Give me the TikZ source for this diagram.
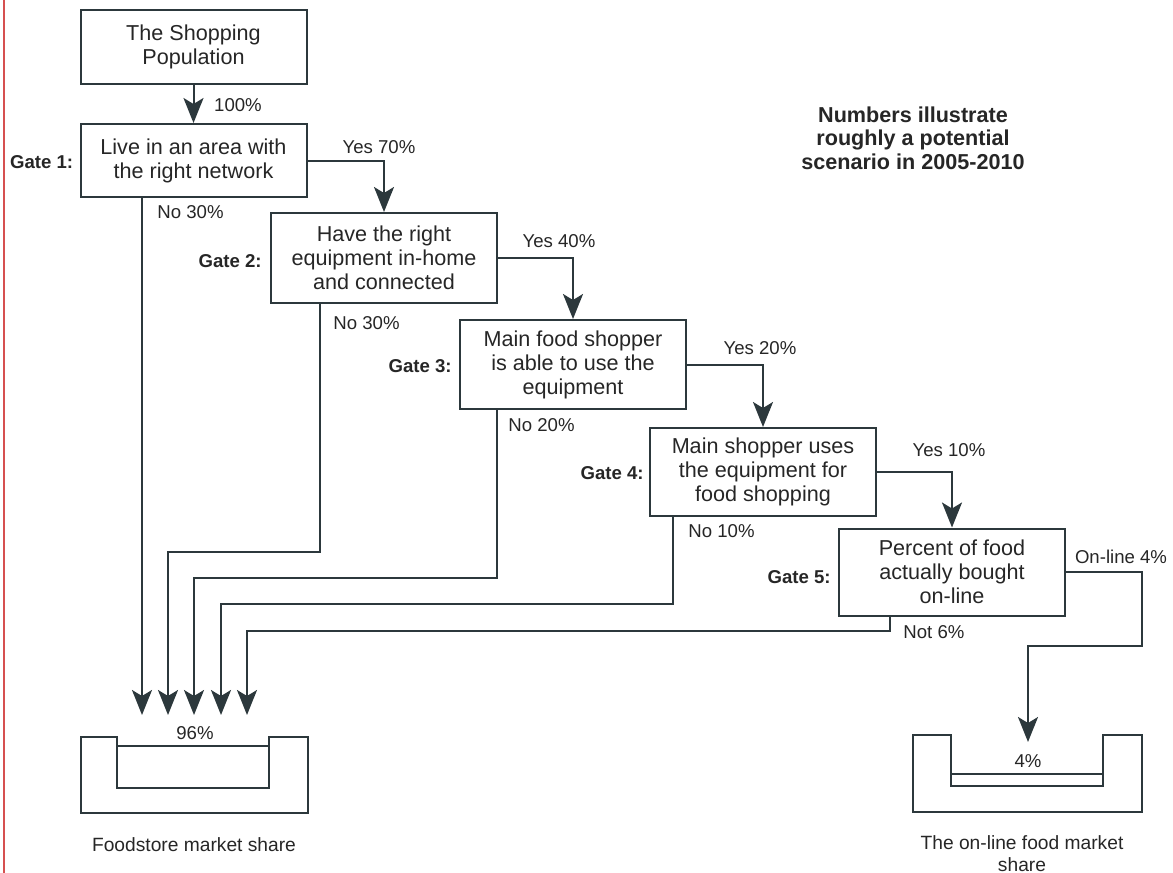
\documentclass[tikz,border=0pt]{standalone}
\usepackage{fontspec}
\setmainfont{Liberation Sans}
\usetikzlibrary{arrows.meta,calc}
\definecolor{ink}{RGB}{44,56,60}
\definecolor{txt}{RGB}{38,38,38}
\definecolor{margin}{RGB}{214,80,80}
\begin{document}
\begin{tikzpicture}[x=0.5pt,y=-0.5pt,
  gatebox/.style={draw=ink, line width=1pt, align=center, inner sep=0pt,
    minimum width=113pt, text=txt, font=\fontsize{10.8}{12}\selectfont},
  flow/.style={draw=ink, line width=1pt,
    -{Stealth[length=12.5pt,width=10pt,inset=3pt]}},
  lane/.style={draw=ink, line width=1pt},
  lbl/.style={text=txt, font=\fontsize{9.3}{11}\selectfont, inner sep=0pt},
  caption/.style={text=txt, font=\fontsize{9.6}{11}\selectfont, inner sep=0pt, align=center},
  gatelbl/.style={text=txt, font=\bfseries\fontsize{9.3}{11}\selectfont,
    inner sep=0pt, anchor=east},
]
\useasboundingbox (0,0) rectangle (1173,873);

% margin rule
\draw[margin, line width=0.8pt] (4,0) -- (4,873);

% the gates
\node[gatebox, minimum height=37pt]   (pop) at (193.5,47)  {The Shopping\\Population};
\node[gatebox, minimum height=36.5pt] (g1)  at (193.5,160.5) {Live in an area with\\the right network};
\node[gatebox, minimum height=45pt]   (g2)  at (384,258)   {Have the right\\equipment in-home\\and connected};
\node[gatebox, minimum height=44.5pt] (g3)  at (573,364.5) {Main food shopper\\is able to use the\\equipment};
\node[gatebox, minimum height=44pt]   (g4)  at (763,472)   {Main shopper uses\\the equipment for\\food shopping};
\node[gatebox, minimum height=43.5pt] (g5)  at (952,572)   {Percent of food\\actually bought\\on-line};

\node[gatelbl] (t1) at ($(g1.west)+(-6,2)$) {Gate 1:};
\node[gatelbl] (t2) at ($(g2.west)+(-8,3)$) {Gate 2:};
\node[gatelbl] (t3) at ($(g3.west)+(-7,2)$) {Gate 3:};
\node[gatelbl] (t4) at ($(g4.west)+(-5,1)$) {Gate 4:};
\node[gatelbl] (t5) at ($(g5.west)+(-7,5)$) {Gate 5:};

% title
\node[text=txt, align=center, font=\bfseries\fontsize{10.8}{11.8}\selectfont]
  (title) at (913,138) {Numbers illustrate\\roughly a potential\\scenario in 2005-2010};

% main flow
\draw[flow] (pop.south) -- (g1.north);
\node[lbl] (p100) at (238,105) {100\%};

\draw[flow] (g1.east) -| (g2.north);
\draw[flow] (g2.east) -| (g3.north);
\draw[flow] (g3.east) -| (g4.north);
\draw[flow] (g4.east) -| (g5.north);
\node[lbl] (y1) at (379,147) {Yes 70\%};
\node[lbl] (y2) at (559,241) {Yes 40\%};
\node[lbl] (y3) at (760,348) {Yes 20\%};
\node[lbl] (y4) at (949,450) {Yes 10\%};

% drop-outs to the foodstore
\coordinate (in1) at (142,715);
\coordinate (in2) at (168,715);
\coordinate (in3) at (194,715);
\coordinate (in4) at (221,715);
\coordinate (in5) at (247,715);
\coordinate (d2) at (320,552);
\coordinate (d3) at (497,578);
\coordinate (d4) at (673,604);
\coordinate (d5) at (890,631);

\draw[flow] (g1.south -| in1) -- (in1);
\draw[flow] (g2.south -| d2) -- (d2) -- (in2 |- d2) -- (in2);
\draw[flow] (g3.south -| d3) -- (d3) -- (in3 |- d3) -- (in3);
\draw[flow] (g4.south -| d4) -- (d4) -- (in4 |- d4) -- (in4);
\draw[flow] (g5.south -| d5) -- (d5) -- (in5 |- d5) -- (in5);

\node[lbl, anchor=west] (n1) at (157,212) {No 30\%};
\node[lbl, anchor=west] (n2) at (333,323) {No 30\%};
\node[lbl, anchor=west] (n3) at (508,425) {No 20\%};
\node[lbl, anchor=west] (n4) at (688,531) {No 10\%};
\node[lbl, anchor=west] (n5) at (903,632) {Not 6\%};

% on-line branch
\coordinate (o1) at (1142,646);
\coordinate (o2) at (1028,742);
\draw[flow] (g5.east) -| (o1) -- (o2 |- o1) -- (o2);
\node[lbl] (on) at (1121,557) {On-line 4\%};

% foodstore container
\draw[lane] (81,737) -- (117,737) -- (117,788) -- (269,788) -- (269,737)
  -- (308,737) -- (308,813) -- (81,813) -- cycle;
\draw[lane] (117,746) -- (269,746);
\node[lbl] (s96) at (195,733) {96\%};
\node[caption] (cap1) at (194,845) {Foodstore market share};

% on-line container
\draw[lane] (913,735) -- (951,735) -- (951,786) -- (1103,786) -- (1103,735)
  -- (1142,735) -- (1142,812) -- (913,812) -- cycle;
\draw[lane] (951,774) -- (1103,774);
\node[lbl] (s4) at (1028,761) {4\%};
\node[caption] (cap2) at (1022,854) {The on-line food market\\share};
\end{tikzpicture}
\end{document}
